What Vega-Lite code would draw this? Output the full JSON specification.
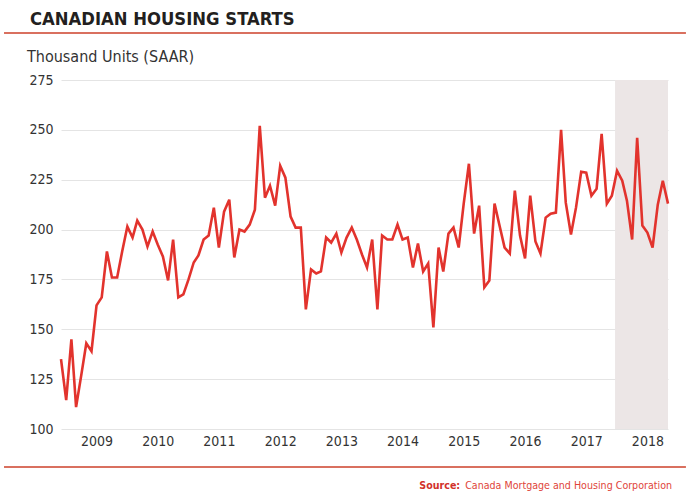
{
  "$schema": "https://vega.github.io/schema/vega-lite/v6.json",
  "width": 607,
  "height": 349,
  "autosize": "none",
  "padding": {"left": 61, "top": 80, "right": 18, "bottom": 64},
  "background": "white",
  "config": {
    "view": {"stroke": null},
    "axis": {"labelOverlap": false, "labelBound": false, "labelFlush": false, "ticks": false, "domain": false, "title": null, "labelFont": "DejaVu Sans Condensed", "labelFontSize": 14, "labelColor": "#333333"},
    "axisX": {"grid": false, "labelPadding": 5},
    "axisY": {"grid": true, "gridColor": "#e4e4e4", "labelPadding": 8}
  },
  "layer": [
    {
      "data": {"values": [{}]},
      "mark": {"type": "rect", "color": "#ece6e6"},
      "encoding": {
        "x": {"datum": 1513728000000, "type": "temporal", "title": null, "scale": {"domain": [1228089600000, 1541030400000], "nice": false}},
        "x2": {"datum": 1541030400000},
        "y": {"datum": 275, "type": "quantitative", "title": null, "scale": {"domain": [100, 275], "nice": false, "zero": false}},
        "y2": {"datum": 100}
      }
    },
    {
      "data": {
        "values": [
          {"date": "2008-12-01", "v": 135}, {"date": "2009-01-01", "v": 114.5}, {"date": "2009-02-01", "v": 145}, {"date": "2009-03-01", "v": 111},
          {"date": "2009-04-01", "v": 127}, {"date": "2009-05-01", "v": 143}, {"date": "2009-06-01", "v": 139}, {"date": "2009-07-01", "v": 162},
          {"date": "2009-08-01", "v": 166}, {"date": "2009-09-01", "v": 189}, {"date": "2009-10-01", "v": 176}, {"date": "2009-11-01", "v": 176},
          {"date": "2009-12-01", "v": 189}, {"date": "2010-01-01", "v": 201.5}, {"date": "2010-02-01", "v": 196}, {"date": "2010-03-01", "v": 204.5},
          {"date": "2010-04-01", "v": 200}, {"date": "2010-05-01", "v": 191.5}, {"date": "2010-06-01", "v": 199}, {"date": "2010-07-01", "v": 192.5},
          {"date": "2010-08-01", "v": 186.5}, {"date": "2010-09-01", "v": 174.5}, {"date": "2010-10-01", "v": 195}, {"date": "2010-11-01", "v": 166},
          {"date": "2010-12-01", "v": 167.5}, {"date": "2011-01-01", "v": 175}, {"date": "2011-02-01", "v": 183.5}, {"date": "2011-03-01", "v": 187},
          {"date": "2011-04-01", "v": 195}, {"date": "2011-05-01", "v": 197}, {"date": "2011-06-01", "v": 211}, {"date": "2011-07-01", "v": 191},
          {"date": "2011-08-01", "v": 209}, {"date": "2011-09-01", "v": 215}, {"date": "2011-10-01", "v": 186}, {"date": "2011-11-01", "v": 200},
          {"date": "2011-12-01", "v": 199}, {"date": "2012-01-01", "v": 202.5}, {"date": "2012-02-01", "v": 210}, {"date": "2012-03-01", "v": 252},
          {"date": "2012-04-01", "v": 216}, {"date": "2012-05-01", "v": 222}, {"date": "2012-06-01", "v": 212}, {"date": "2012-07-01", "v": 232},
          {"date": "2012-08-01", "v": 226}, {"date": "2012-09-01", "v": 206.5}, {"date": "2012-10-01", "v": 201}, {"date": "2012-11-01", "v": 201},
          {"date": "2012-12-01", "v": 160}, {"date": "2013-01-01", "v": 180}, {"date": "2013-02-01", "v": 178}, {"date": "2013-03-01", "v": 179},
          {"date": "2013-04-01", "v": 196}, {"date": "2013-05-01", "v": 193.5}, {"date": "2013-06-01", "v": 198}, {"date": "2013-07-01", "v": 188.5},
          {"date": "2013-08-01", "v": 196}, {"date": "2013-09-01", "v": 201}, {"date": "2013-10-01", "v": 195}, {"date": "2013-11-01", "v": 187.5},
          {"date": "2013-12-01", "v": 181}, {"date": "2014-01-01", "v": 195}, {"date": "2014-02-01", "v": 160}, {"date": "2014-03-01", "v": 197},
          {"date": "2014-04-01", "v": 195}, {"date": "2014-05-01", "v": 195}, {"date": "2014-06-01", "v": 202.5}, {"date": "2014-07-01", "v": 195},
          {"date": "2014-08-01", "v": 196}, {"date": "2014-09-01", "v": 181}, {"date": "2014-10-01", "v": 193}, {"date": "2014-11-01", "v": 179},
          {"date": "2014-12-01", "v": 183}, {"date": "2015-01-01", "v": 151}, {"date": "2015-02-01", "v": 191}, {"date": "2015-03-01", "v": 179},
          {"date": "2015-04-01", "v": 198}, {"date": "2015-05-01", "v": 201}, {"date": "2015-06-01", "v": 191}, {"date": "2015-07-01", "v": 213},
          {"date": "2015-08-01", "v": 233}, {"date": "2015-09-01", "v": 198}, {"date": "2015-10-01", "v": 212}, {"date": "2015-11-01", "v": 171},
          {"date": "2015-12-01", "v": 174.5}, {"date": "2016-01-01", "v": 213}, {"date": "2016-02-01", "v": 201.5}, {"date": "2016-03-01", "v": 191},
          {"date": "2016-04-01", "v": 188}, {"date": "2016-05-01", "v": 219.5}, {"date": "2016-06-01", "v": 197}, {"date": "2016-07-01", "v": 185.5},
          {"date": "2016-08-01", "v": 217}, {"date": "2016-09-01", "v": 194}, {"date": "2016-10-01", "v": 188}, {"date": "2016-11-01", "v": 206},
          {"date": "2016-12-01", "v": 208}, {"date": "2017-01-01", "v": 208.5}, {"date": "2017-02-01", "v": 250}, {"date": "2017-03-01", "v": 213.5},
          {"date": "2017-04-01", "v": 197.5}, {"date": "2017-05-01", "v": 211}, {"date": "2017-06-01", "v": 229}, {"date": "2017-07-01", "v": 228.5},
          {"date": "2017-08-01", "v": 217}, {"date": "2017-09-01", "v": 220.5}, {"date": "2017-10-01", "v": 248}, {"date": "2017-11-01", "v": 213},
          {"date": "2017-12-01", "v": 217}, {"date": "2018-01-01", "v": 229.5}, {"date": "2018-02-01", "v": 224.5}, {"date": "2018-03-01", "v": 214.5},
          {"date": "2018-04-01", "v": 195}, {"date": "2018-05-01", "v": 246}, {"date": "2018-06-01", "v": 202}, {"date": "2018-07-01", "v": 198.5},
          {"date": "2018-08-01", "v": 191}, {"date": "2018-09-01", "v": 212.5}, {"date": "2018-10-01", "v": 224.5}, {"date": "2018-11-01", "v": 213}
        ]
      },
      "mark": {"type": "line", "color": "#e2332d", "strokeWidth": 2.6},
      "encoding": {
        "x": {
          "field": "date",
          "type": "temporal",
          "title": null,
          "scale": {"domain": [1228089600000, 1541030400000], "nice": false},
          "axis": {
            "values": ["2009-07-01", "2010-07-01", "2011-07-01", "2012-07-01", "2013-07-01", "2014-07-01", "2015-07-01", "2016-07-01", "2017-07-01", "2018-07-01"],
            "format": "%Y",
            "labelOverlap": false
          }
        },
        "y": {
          "field": "v",
          "type": "quantitative",
          "title": null,
          "scale": {"domain": [100, 275], "nice": false, "zero": false},
          "axis": {"values": [100, 125, 150, 175, 200, 225, 250, 275]}
        }
      }
    },
    {
      "data": {"values": [{}]},
      "mark": {"type": "rule", "color": "#d9705f", "strokeWidth": 2},
      "encoding": {
        "x": {"datum": 1198713600000, "type": "temporal", "title": null, "scale": {"domain": [1228089600000, 1541030400000], "nice": false}},
        "x2": {"datum": 1550275200000},
        "y": {"datum": 298.57, "type": "quantitative", "title": null, "scale": {"domain": [100, 275], "nice": false, "zero": false}}
      }
    },
    {
      "data": {"values": [{}]},
      "mark": {"type": "rule", "color": "#d9705f", "strokeWidth": 2},
      "encoding": {
        "x": {"datum": 1198713600000, "type": "temporal", "title": null, "scale": {"domain": [1228089600000, 1541030400000], "nice": false}},
        "x2": {"datum": 1550275200000},
        "y": {"datum": 80.95, "type": "quantitative", "title": null, "scale": {"domain": [100, 275], "nice": false, "zero": false}}
      }
    },
    {
      "data": {"values": [{}]},
      "mark": {"type": "text", "align": "left", "baseline": "alphabetic", "font": "DejaVu Sans Condensed", "fontSize": 18.3, "fontWeight": "bold", "color": "#231f20", "text": "CANADIAN HOUSING STARTS"},
      "encoding": {
        "x": {"datum": 1212105600000, "type": "temporal", "title": null, "scale": {"domain": [1228089600000, 1541030400000], "nice": false}},
        "y": {"datum": 302.58, "type": "quantitative", "title": null, "scale": {"domain": [100, 275], "nice": false, "zero": false}}
      }
    },
    {
      "data": {"values": [{}]},
      "mark": {"type": "text", "align": "left", "baseline": "alphabetic", "font": "DejaVu Sans Condensed", "fontSize": 16, "color": "#333333", "text": "Thousand Units (SAAR)"},
      "encoding": {
        "x": {"datum": 1210550400000, "type": "temporal", "title": null, "scale": {"domain": [1228089600000, 1541030400000], "nice": false}},
        "y": {"datum": 284.03, "type": "quantitative", "title": null, "scale": {"domain": [100, 275], "nice": false, "zero": false}}
      }
    },
    {
      "data": {"values": [{}]},
      "mark": {"type": "text", "align": "right", "baseline": "middle", "font": "DejaVu Sans Condensed", "fontSize": 10.6, "color": "#e0453a", "text": "Canada Mortgage and Housing Corporation"},
      "encoding": {
        "x": {"datum": 1543104000000, "type": "temporal", "title": null, "scale": {"domain": [1228089600000, 1541030400000], "nice": false}},
        "y": {"datum": 71.4, "type": "quantitative", "title": null, "scale": {"domain": [100, 275], "nice": false, "zero": false}}
      }
    },
    {
      "data": {"values": [{}]},
      "mark": {"type": "text", "align": "right", "baseline": "middle", "font": "DejaVu Sans Condensed", "fontSize": 10.6, "fontWeight": "bold", "color": "#d2322b", "text": "Source:"},
      "encoding": {
        "x": {"datum": 1433894400000, "type": "temporal", "title": null, "scale": {"domain": [1228089600000, 1541030400000], "nice": false}},
        "y": {"datum": 71.4, "type": "quantitative", "title": null, "scale": {"domain": [100, 275], "nice": false, "zero": false}}
      }
    }
  ]
}
